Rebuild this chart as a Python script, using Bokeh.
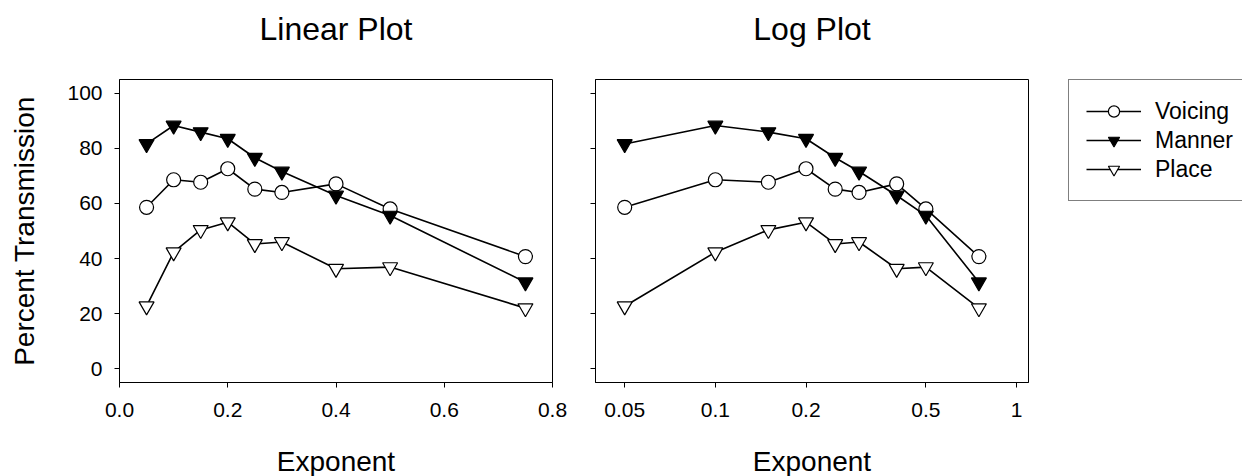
from bokeh.plotting import figure
from bokeh.layouts import row
from bokeh.models import (FixedTicker, Legend, LegendItem, Range1d,
                          LinearAxis, CustomJSTickFormatter)
from bokeh.embed import file_html
from bokeh.resources import INLINE

# Exponent values and percent transmission for each feature
exponent = [0.05, 0.1, 0.15, 0.2, 0.25, 0.3, 0.4, 0.5, 0.75]
voicing = [58.6, 68.6, 67.7, 72.6, 65.2, 64.0, 67.1, 58.0, 40.7]
manner = [81.6, 88.3, 85.9, 83.5, 76.6, 71.6, 62.9, 55.6, 31.4]
place = [22.7, 42.3, 50.4, 53.2, 45.3, 46.0, 36.3, 36.9, 22.0]

y_ticks = [0, 20, 40, 60, 80, 100]
lin_ticks = [0.0, 0.2, 0.4, 0.6, 0.8]
lin_labels = ["0.0", "0.2", "0.4", "0.6", "0.8"]
log_ticks = [0.05, 0.1, 0.2, 0.5, 1.0]
log_labels = ["0.05", "0.1", "0.2", "0.5", "1"]

FONT = "Liberation Sans"

series = [
    ("Voicing", voicing, "circle", 14, "white"),
    ("Manner", manner, "inverted_triangle", 15, "black"),
    ("Place", place, "inverted_triangle", 15, "white"),
]


def style_axes(p, heading, anchor_tick):
    """Style the bottom and left axes and put the panel heading above."""
    p.xgrid.visible = False
    p.ygrid.visible = False
    p.outline_line_color = "black"
    p.outline_line_width = 1
    p.background_fill_color = "white"
    p.border_fill_color = "white"
    p.title.visible = False
    xax = p.below[0]
    yax = p.left[0]
    for ax in (xax, yax):
        ax.axis_line_color = "black"
        ax.major_tick_line_color = "black"
        ax.major_tick_out = 5
        ax.major_tick_in = 0
        ax.minor_tick_out = 0
        ax.minor_tick_in = 0
        ax.minor_tick_line_color = None
        ax.major_label_text_font = FONT
        ax.major_label_text_font_size = "21px"
        ax.major_label_text_color = "black"
        ax.axis_label_text_font = FONT
        ax.axis_label_text_font_size = "28px"
        ax.axis_label_text_font_style = "normal"
        ax.axis_label_text_color = "black"
    yax.ticker = FixedTicker(ticks=y_ticks, minor_ticks=[])
    xax.major_label_standoff = 15
    xax.axis_label_standoff = 26
    xax.axis_label = "Exponent"
    # bare axis above the frame that carries the panel heading
    head = LinearAxis(ticker=FixedTicker(ticks=[anchor_tick], minor_ticks=[]),
                      formatter=CustomJSTickFormatter(code="return ''"),
                      axis_line_color=None, major_tick_line_color=None,
                      minor_tick_line_color=None,
                      major_tick_out=0, major_tick_in=0,
                      minor_tick_out=0, minor_tick_in=0,
                      major_label_standoff=0,
                      major_label_text_font_size="1px",
                      axis_label=heading, axis_label_standoff=33,
                      axis_label_text_font=FONT,
                      axis_label_text_font_size="32px",
                      axis_label_text_font_style="normal",
                      axis_label_text_color="black")
    p.add_layout(head, "above")
    return xax, yax


def add_series(p):
    out = []
    for name, vals, marker, size, fill in series:
        ln = p.line(exponent, vals, line_color="black", line_width=1.6)
        sc = p.scatter(exponent, vals, marker=marker, size=size,
                       fill_color=fill, line_color="black", line_width=1.2)
        out.append((name, ln, sc))
    return out


# Left panel: linear exponent axis
p1 = figure(frame_width=433, frame_height=303,
            min_border_left=119, min_border_right=18,
            min_border_top=79, min_border_bottom=94,
            x_range=Range1d(0, 0.8), y_range=Range1d(-5, 105),
            output_backend="svg", toolbar_location=None)
x1, y1 = style_axes(p1, "Linear Plot", lin_ticks[2])
x1.ticker = FixedTicker(ticks=lin_ticks, minor_ticks=[])
x1.major_label_overrides = dict(zip(lin_ticks, lin_labels))
y1.axis_label = "Percent Transmission"
y1.major_label_standoff = 12
y1.axis_label_standoff = 24
add_series(p1)

# Right panel: logarithmic exponent axis, shared y scale without labels
p2 = figure(frame_width=433, frame_height=303,
            min_border_left=25, min_border_right=214,
            min_border_top=79, min_border_bottom=94,
            x_axis_type="log",
            x_range=Range1d(0.04, 1.096), y_range=Range1d(-5, 105),
            output_backend="svg", toolbar_location=None)
x2, y2 = style_axes(p2, "Log Plot", log_ticks[2])
x2.ticker = FixedTicker(ticks=log_ticks, minor_ticks=[])
x2.major_label_overrides = dict(zip(log_ticks, log_labels))
y2.formatter = CustomJSTickFormatter(code="return ''")
y2.major_label_standoff = 0
items = add_series(p2)

legend = Legend(
    items=[LegendItem(label=name, renderers=[ln, sc]) for name, ln, sc in items],
    location=(40, 181),
    orientation="vertical",
    border_line_color="black", border_line_width=1,
    background_fill_color="white", background_fill_alpha=1.0,
    padding=17, spacing=1, margin=0,
    glyph_width=55, glyph_height=28,
    label_standoff=14, label_height=28, label_width=80,
    label_text_font=FONT, label_text_font_size="23px", label_text_color="black",
)
p2.add_layout(legend, "right")

layout = row(p1, p2, spacing=0)
open("out.html", "w").write(file_html(layout, INLINE))
